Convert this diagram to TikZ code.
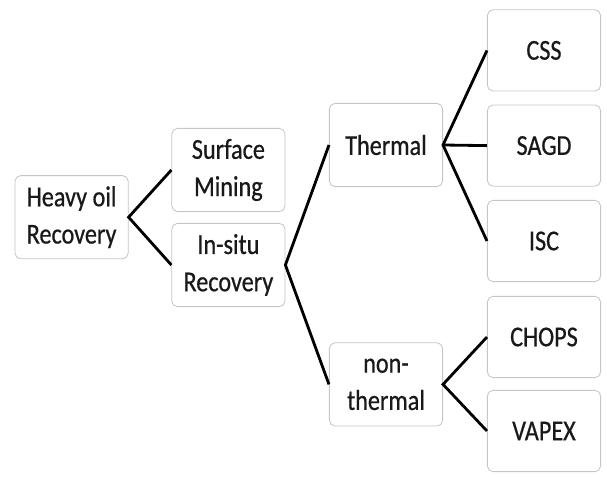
\documentclass[tikz,border=0pt]{standalone}
\usepackage{fontspec}
\setmainfont{Carlito}[FakeStretch=0.84, FakeBold=0.6]
\usepackage{tikz}
\usetikzlibrary{positioning, calc}

\begin{document}
\begin{tikzpicture}[
  font=\fontsize{20.5}{26.5}\selectfont,
  box/.style  ={rectangle, rounded corners=4pt, draw=gray!45, fill=white, line width=0.6pt,
                text=black!90, align=center, minimum width=2.83cm, minimum height=2.08cm, inner sep=2pt},
  leaf/.style ={box, minimum height=2.03cm},
  link/.style ={draw=black, line width=2pt},
]
\useasboundingbox (0,0) rectangle (15.175,-11.95);

% --- Root ---
\node[box]  (hor) at ( 1.79, -5.43)  {Heavy oil\\Recovery};

% --- Level 1 ---
\node[box]  (sur) at ( 5.71, -4.25)  {Surface\\Mining};
\node[box]  (ins) at ( 5.71, -6.625) {In-situ\\Recovery};

% --- Level 2 ---
\node[box]  (thm) at ( 9.65, -3.625) {Thermal};
\node[box]  (nth) at ( 9.65, -9.61)  {non-\\thermal};

% --- Leaves ---
\node[leaf] (css) at (13.6, -1.26)   {CSS};
\node[leaf] (sag) at (13.6, -3.64)   {SAGD};
\node[leaf] (isc) at (13.6, -6.025)  {ISC};
\node[leaf] (cho) at (13.6, -8.425)  {CHOPS};
\node[leaf] (vap) at (13.6, -10.775) {VAPEX};

% --- Connectors ---
\draw[link] (sur.west) -- (hor.east) -- (ins.west);
\draw[link] (thm.west) -- (ins.east) -- (nth.west);
\draw[link] (css.west) -- (thm.east) -- (isc.west);
\draw[link] (thm.east) -- (sag.west);
\draw[link] (cho.west) -- (nth.east) -- (vap.west);
\end{tikzpicture}
\end{document}
